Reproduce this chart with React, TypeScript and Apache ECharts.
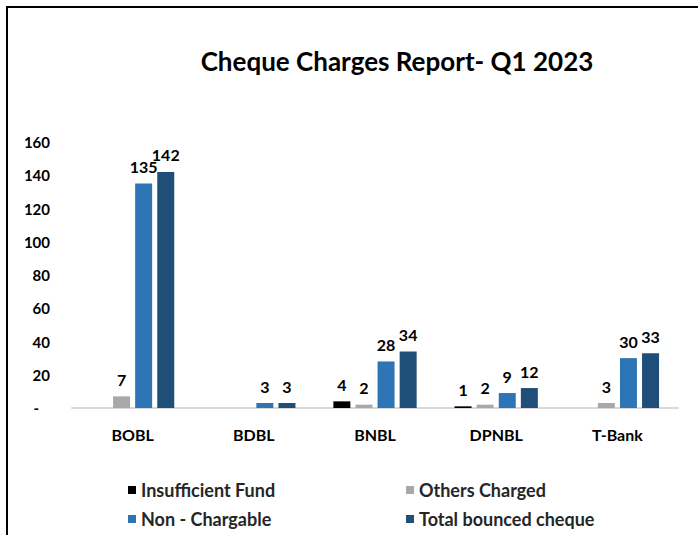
import React, { useEffect, useRef } from "react";
import * as echarts from "echarts";

const categories = ["BOBL", "BDBL", "BNBL", "DPNBL", "T-Bank"];
const insufficientFund = [null, null, 4, 1, null];
const othersCharged = [7, null, 2, 2, 3];
const nonChargable = [135, 3, 28, 9, 30];
const totalBounced = [142, 3, 34, 12, 33];
const yTicks = [0, 20, 40, 60, 80, 100, 120, 140, 160];

const FONT = "Lato, 'Open Sans', sans-serif";

export default function App() {
  const ref = useRef<HTMLDivElement>(null);
  useEffect(() => {
    if (!ref.current) return;
    const chart = echarts.init(ref.current, null, { renderer: "svg" });
    const label = {
      show: true,
      position: "top",
      distance: 9,
      color: "#000",
      fontFamily: FONT,
      fontWeight: "bold",
      fontSize: 16,
    };
    const mk = (name: string, data: (number | null)[], color: string) => ({
      name,
      type: "bar",
      data,
      barWidth: 17,
      barGap: "30%",
      itemStyle: { color },
      label,
    });
    const legendText = { fontFamily: FONT, fontWeight: "bold", fontSize: 18, color: "#262626" };
    chart.setOption({
      animation: false,
      textStyle: { fontFamily: FONT },
      title: {
        text: "Cheque Charges Report- Q1 2023",
        left: 392,
        top: 43,
        textAlign: "center",
        textStyle: { fontFamily: FONT, fontWeight: "bold", fontSize: 26, color: "#000" },
      },
      graphic: [
        { type: "line", shape: { x1: 6, y1: 7, x2: 698, y2: 7 }, style: { stroke: "#000", lineWidth: 2 } },
        { type: "line", shape: { x1: 7, y1: 6, x2: 7, y2: 535 }, style: { stroke: "#000", lineWidth: 2 } },
      ],
      legend: [
        {
          data: ["Insufficient Fund", "Non - Chargable"],
          orient: "vertical",
          left: 123,
          top: 476,
          itemWidth: 8,
          itemHeight: 8,
          itemGap: 11,
          icon: "rect",
          textStyle: legendText,
        },
        {
          data: ["Others Charged", "Total bounced cheque"],
          orient: "vertical",
          left: 401,
          top: 476,
          itemWidth: 8,
          itemHeight: 8,
          itemGap: 11,
          icon: "rect",
          textStyle: legendText,
        },
      ],
      grid: { left: 72, right: 20, top: 142, bottom: 127, containLabel: false },
      xAxis: {
        type: "category",
        data: categories,
        axisLine: { lineStyle: { color: "#d9d9d9", width: 2 } },
        axisTick: { show: false },
        axisLabel: { color: "#000", fontFamily: FONT, fontWeight: "bold", fontSize: 16, margin: 18 },
      },
      yAxis: {
        type: "value",
        min: yTicks[0],
        max: yTicks[yTicks.length - 1],
        interval: 20,
        axisLine: { show: false },
        axisTick: { show: false },
        splitLine: { show: false },
        axisLabel: {
          color: "#000",
          fontFamily: FONT,
          fontWeight: "bold",
          fontSize: 15,
          margin: 22,
          formatter: (v: number) => (v === 0 ? "-   " : String(v)),
        },
      },
      series: [
        mk("Insufficient Fund", insufficientFund, "#000000"),
        mk("Others Charged", othersCharged, "#a9a7a7"),
        mk("Non - Chargable", nonChargable, "#2e75b6"),
        mk("Total bounced cheque", totalBounced, "#1f4e79"),
      ],
    });
    return () => chart.dispose();
  }, []);
  return (
    <div
      ref={ref}
      style={{ position: "fixed", left: 0, top: 0, width: 698, height: 535, background: "#fff" }}
    />
  );
}
